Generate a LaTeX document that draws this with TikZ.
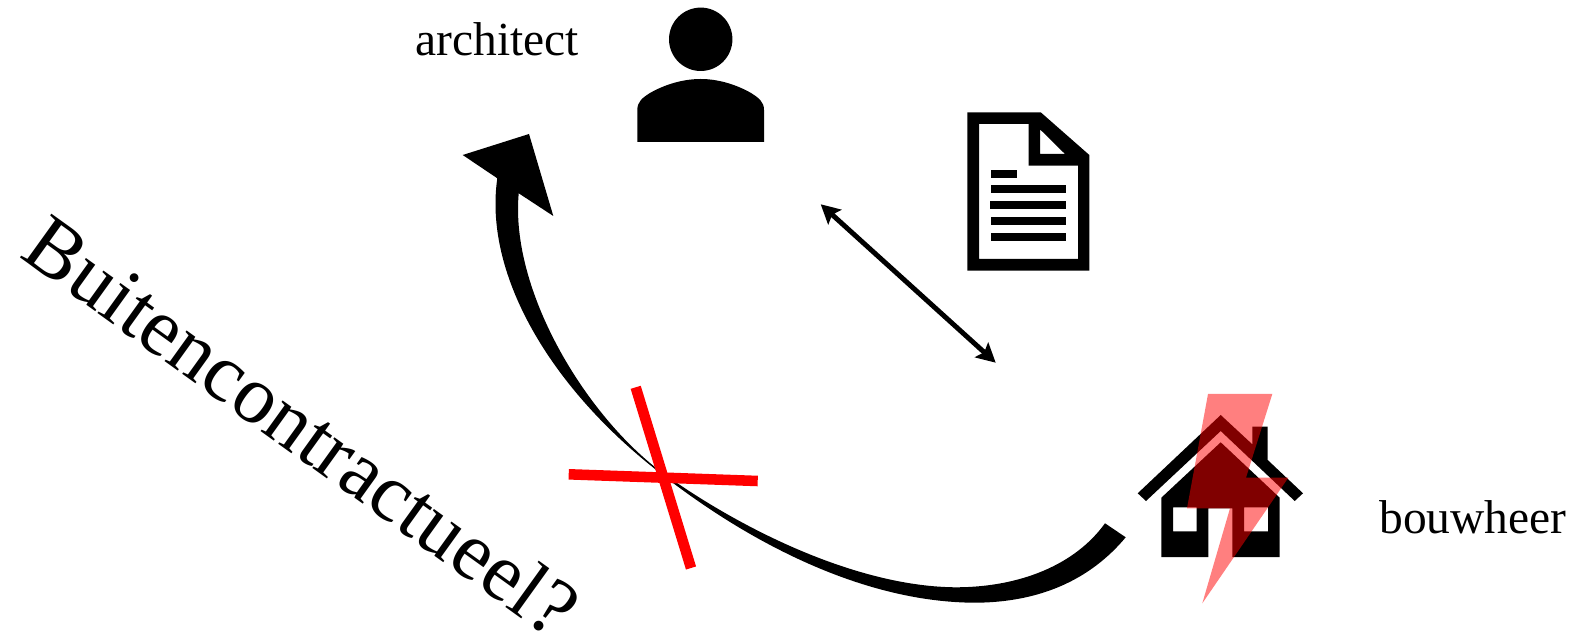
\documentclass[tikz,border=0pt]{standalone}
\usepackage{fontspec}
\setmainfont{Liberation Serif}
\usetikzlibrary{arrows.meta}
\tikzstyle{role}=[
	font=\fontsize{13.5}{16}\selectfont,
	inner sep=0pt
]
\tikzstyle{question}=[
	font=\fontsize{23.4}{28}\selectfont,
	inner sep=0pt,
	rotate=-35.7
]
\tikzstyle{icon}=[
	fill=black,
	even odd rule
]
\tikzstyle{exchange}=[
	{Stealth[length=5.4pt,width=5.6pt,inset=1pt]}-{Stealth[length=5.4pt,width=5.6pt,inset=1pt]},
	line width=1.4pt
]
\tikzstyle{cross}=[
	red,
	line width=3pt
]

\begin{document}
\begin{tikzpicture}[x=0.01cm,y=-0.01cm]
\useasboundingbox (0,0) rectangle (1570,640);
\node [role] (architect) at (497,39.5) {architect};
\node [role] (bouwheer) at (1473,517) {bouwheer};
\node [question] (buiten) at (302,426) {Buitencontractueel?};
% person
\fill [icon] (700.7,39.3) circle (31.7);
\fill [icon] (637.3,142) -- (637.3,110) .. controls (637.3,102) and (642,98) .. (650,93)
	.. controls (664,85) and (682,79) .. (700.7,79)
	.. controls (719,79) and (737,85) .. (751,93)
	.. controls (759,98) and (764,102) .. (764,110) -- (764,142) -- cycle;
% document
\fill [icon] (967.3,112.3) -- (1040.7,112.3) -- (1089.3,155) -- (1089.3,270.7) -- (967.3,270.7) -- cycle
	(979,124) -- (1028.7,124) -- (1028.7,165.7) -- (1078,165.7) -- (1078,259) -- (979,259) -- cycle
	(1040,129.3) -- (1065,154) -- (1040,154) -- cycle;
\fill [icon] (991,170) rectangle (1017,178);
\foreach \liney/\linex in {185/991,201/990,217/991,233/991}
	\fill [icon] (\linex,\liney) rectangle (1066,\liney+8);
% house
\fill [icon] (1137.7,493.3) -- (1220.7,415) -- (1252.3,444.3) -- (1252.3,426.7) -- (1267.7,426.7) -- (1267.7,460)
	-- (1303,493.3) -- (1294.7,501) -- (1220.7,431) -- (1146,501) -- cycle;
\fill [icon] (1220.7,442.3) -- (1279.7,497.7) -- (1279.7,557) -- (1232.3,557) -- (1232.3,508.3) -- (1208.3,508.3)
	-- (1208.3,557) -- (1161.3,557) -- (1161.3,497.7) -- cycle
	(1173,507.3) rectangle (1196.7,531.3)
	(1244,507.3) rectangle (1268,531.3);
\fill [red,opacity=0.5] (1208,394) -- (1272.3,394) -- (1246,477.7) -- (1288.3,477.7) -- (1202.3,603.3)
	-- (1230,508.3) -- (1187,508.3) -- cycle;
% connectors
\coordinate (docA) at (820.7,204.3);
\coordinate (docB) at (995.7,362.7);
\draw [exchange] (docA) -- (docB);
\coordinate (tailA) at (1105,523.3);
\coordinate (tailB) at (1125.7,537.3);
\coordinate (headA) at (462.7,155);
\coordinate (headB) at (529,134);
\coordinate (headC) at (553.3,216);
\coordinate (neckA) at (497.3,178.3);
\coordinate (neckB) at (518.7,193.3);
\fill (tailB) .. controls (1090,580) and (1040,602) .. (976.7,602.7)
	.. controls (860,603) and (740,538) .. (650,465)
	.. controls (545,380) and (484,270) .. (neckA)
	-- (headA) -- (headB) -- (headC) -- (neckB)
	.. controls (510,290) and (585,415) .. (662,472.5)
	.. controls (745,532) and (860,587) .. (956.7,587.3)
	.. controls (1020,587) and (1075,565) .. (tailA) -- cycle;
\coordinate (crossA) at (568.7,474.3);
\coordinate (crossB) at (757.7,481);
\coordinate (crossC) at (635.7,387.3);
\coordinate (crossD) at (691,568);
\draw [cross] (crossA) -- (crossB);
\draw [cross] (crossC) -- (crossD);
\end{tikzpicture}
\end{document}
